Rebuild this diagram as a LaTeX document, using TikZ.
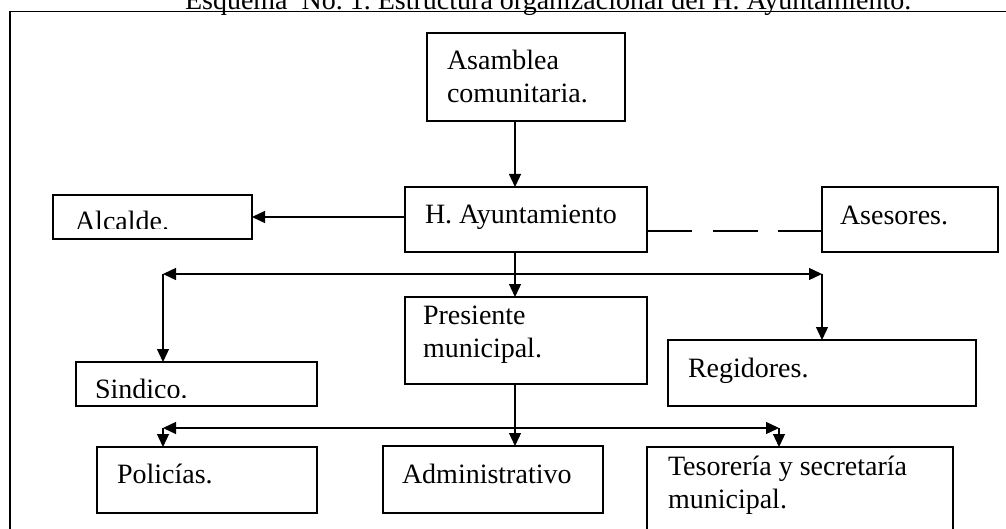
\documentclass[tikz,border=0pt]{standalone}
\usepackage{fontspec}
\setmainfont{Liberation Serif}
\usetikzlibrary{arrows.meta}
\begin{document}
\frenchspacing
\begin{tikzpicture}[x=1pt,y=-1pt,
  box/.style={draw, line width=1.3pt, inner sep=0pt, outer sep=0pt},
  txt/.style={inner sep=0pt, outer sep=0pt, anchor=base west, font=\fontsize{28}{33}\selectfont},
  conn/.style={line width=1.3pt},
  arr/.style={conn, -{Triangle[length=13pt,width=12pt]}},
  darr/.style={conn, {Triangle[length=13pt,width=12pt]}-{Triangle[length=13pt,width=12pt]}}]
\useasboundingbox (0,0) rectangle (1006,529);
\clip (0,0) rectangle (1006,529);
% frame
\draw[line width=1.5pt] (10,560) -- (10,11.5) -- (1030,11.5);
\node[txt] (title) at (185,10) {Esquema~ No. 1. Estructura organizacional del H. Ayuntamiento.};
% boxes
\node[box, minimum width=198pt, minimum height=88pt] (asamblea) at (526,77) {};
\node[box, minimum width=242pt, minimum height=65pt] (ayunt) at (526,219.5) {};
\node[box, minimum width=176pt, minimum height=65pt] (asesores) at (910,219.5) {};
\node[box, minimum width=199pt, minimum height=44pt] (alcalde) at (152.5,217) {};
\node[box, minimum width=242pt, minimum height=87pt] (presiente) at (526,340.5) {};
\node[box, minimum width=241pt, minimum height=44pt] (sindico) at (196.5,384) {};
\node[box, minimum width=308pt, minimum height=66pt] (regidores) at (822,373) {};
\node[box, minimum width=220pt, minimum height=66pt] (policias) at (207,480) {};
\node[box, minimum width=220pt, minimum height=67pt] (admin) at (493,479.5) {};
\node[box, minimum width=306pt, minimum height=113pt] (tesoreria) at (800,503.5) {};
% texts
\node[txt] (tasam1) at (447,70) {Asamblea};
\node[txt] (tasam2) at (447,103) {comunitaria.};
\node[txt] (tayunt) at (425,224) {H. Ayuntamiento};
\node[txt] (tases) at (840,225) {Asesores.};
\begin{scope}
\clip (53,195) rectangle (252,229);
\node[txt] (talc) at (75,231) {Alcalde.};
\end{scope}
\node[txt] (tpres1) at (423,324) {Presiente};
\node[txt] (tpres2) at (423,357) {municipal.};
\begin{scope}
\clip (76,362) rectangle (317,397);
\node[txt] (tsind) at (95,398.5) {Sindico.};
\end{scope}
\node[txt] (treg) at (688,377) {Regidores.};
\node[txt] (tpol) at (117,483) {Policías.};
\node[txt] (tadm) at (402,483) {Administrativo};
\node[txt] (ttes1) at (668,475) {Tesorería y secretaría};
\node[txt] (ttes2) at (668,508) {municipal.};
% coordinates
\coordinate (spine) at (515,0);
\coordinate (dash) at (0,231);
\coordinate (lbus) at (163,274);
\coordinate (rbus) at (822,274);
\coordinate (lbusb) at (163,428);
\coordinate (rbusb) at (779,428);
% connectors
\draw[arr] (asamblea.south -| spine) -- (ayunt.north -| spine);
\draw[arr] (ayunt.west |- alcalde.east) -- (alcalde.east);
\draw[conn, dash pattern=on 45pt off 20.5pt] (ayunt.east |- dash) -- (asesores.west |- dash);
\draw[arr] (ayunt.south -| spine) -- (presiente.north -| spine);
\draw[darr] (lbus) -- (rbus);
\draw[arr] (lbus) -- (sindico.north -| lbus);
\draw[arr] (rbus) -- (regidores.north -| rbus);
\draw[arr] (presiente.south -| spine) -- (admin.north -| spine);
\draw[darr] (lbusb) -- (rbusb);
\draw[arr] (lbusb) -- (policias.north -| lbusb);
\draw[arr] (rbusb) -- (tesoreria.north -| rbusb);
\end{tikzpicture}
\end{document}
